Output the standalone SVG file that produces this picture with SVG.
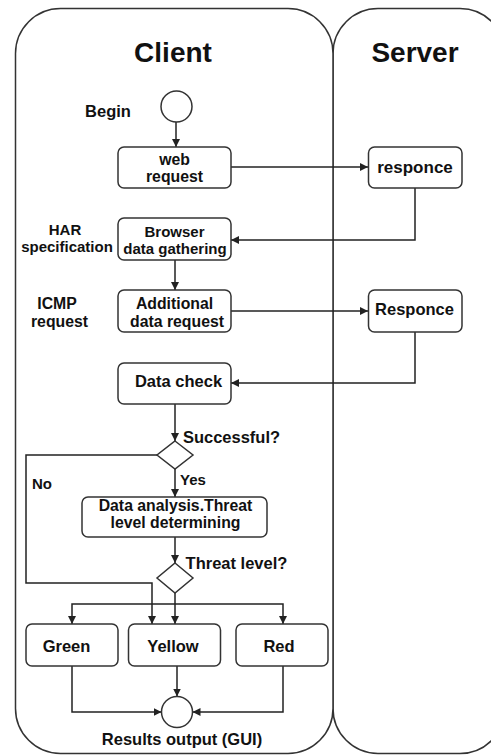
<svg xmlns="http://www.w3.org/2000/svg" width="491" height="755" viewBox="0 0 491 755">
<defs>
<style>
.lane{fill:#fff;stroke:#333;stroke-width:1.5}
.box{fill:#fff;stroke:#333;stroke-width:1.5}
.t{font-family:"Liberation Sans",Arial,sans-serif;font-weight:bold;font-size:16.5px;fill:#111;text-anchor:middle}
.m{font-size:15.8px}
.title{font-size:28px}
.c{fill:none;stroke:#222;stroke-width:1.5}
</style>
<marker id="ah" viewBox="0 0 10 10" refX="10" refY="5" markerWidth="8" markerHeight="8" markerUnits="userSpaceOnUse" orient="auto">
<path d="M0,0 L10,5 L0,10 z" fill="#222"/>
</marker>
</defs>
<rect width="491" height="755" fill="#fff"/>
<g id="lane-server">
<rect class="lane" x="333" y="8.5" width="172" height="745" rx="45" ry="45"/>
<text class="t title" x="415" y="62">Server</text>
</g>
<g id="lane-client">
<rect class="lane" x="15.5" y="8.5" width="317.5" height="745" rx="45" ry="45"/>
<text class="t title" x="173" y="62">Client</text>
</g>
<g id="connectors">
<path class="c" d="M176,122 V147" marker-end="url(#ah)"/>
<path class="c" d="M231,167 H368" marker-end="url(#ah)"/>
<path class="c" d="M415,188 V240 H231" marker-end="url(#ah)"/>
<path class="c" d="M175,260 V290" marker-end="url(#ah)"/>
<path class="c" d="M231,311 H368" marker-end="url(#ah)"/>
<path class="c" d="M415,332 V383 H231" marker-end="url(#ah)"/>
<path class="c" d="M175,404 V441" marker-end="url(#ah)"/>
<path class="c" d="M157,455 H26 V583 H152 V624" marker-end="url(#ah)"/>
<path class="c" d="M175,469 V497" marker-end="url(#ah)"/>
<path class="c" d="M175,537 V563" marker-end="url(#ah)"/>
<path class="c" d="M175,593 V624" marker-end="url(#ah)"/>
<path class="c" d="M175,604 H72 V624" marker-end="url(#ah)"/>
<path class="c" d="M175,604 H283 V624" marker-end="url(#ah)"/>
<path class="c" d="M177,666 V696.5" marker-end="url(#ah)"/>
<path class="c" d="M72,666 V712 H161.5" marker-end="url(#ah)"/>
<path class="c" d="M283,666 V712 H192.5" marker-end="url(#ah)"/>
</g>
<g id="begin">
<circle class="box" cx="176.5" cy="106.5" r="15.5"/>
<text class="t" x="108" y="116.5" font-size="17">Begin</text>
</g>
<g id="web-request">
<rect class="box" x="118" y="147" width="113" height="41" rx="6"/>
<text class="t m" x="174.5" y="164.7">web</text>
<text class="t m" x="174.5" y="182.4">request</text>
</g>
<g id="responce">
<rect class="box" x="368.5" y="147" width="93.5" height="41" rx="6"/>
<text class="t" x="415" y="172.5" style="font-size:17px">responce</text>
</g>
<g id="har-spec">
<text class="t" x="65" y="234.5" style="font-size:15px">HAR</text>
<text class="t" x="67" y="251.5" style="font-size:15px">specification</text>
</g>
<g id="browser">
<rect class="box" x="118" y="218" width="113" height="42" rx="6"/>
<text class="t" x="174.5" y="236.7" style="font-size:15px">Browser</text>
<text class="t" x="175" y="253.7" style="font-size:15px">data gathering</text>
</g>
<g id="icmp">
<text class="t m" x="57" y="309.2">ICMP</text>
<text class="t m" x="59.5" y="326.9">request</text>
</g>
<g id="additional">
<rect class="box" x="118" y="290" width="113" height="42" rx="6"/>
<text class="t m" x="174.5" y="309.2">Additional</text>
<text class="t m" x="177" y="326.9">data request</text>
</g>
<g id="responce2">
<rect class="box" x="368.5" y="290" width="93.5" height="42" rx="6"/>
<text class="t" x="414.5" y="315">Responce</text>
</g>
<g id="data-check">
<rect class="box" x="118" y="363" width="113" height="41" rx="6"/>
<text class="t" x="178.5" y="387">Data check</text>
</g>
<g id="successful">
<path class="box" d="M175,441 L193,455 L175,469 L157,455 Z"/>
<text class="t" x="231.5" y="443">Successful?</text>
<text class="t" x="42" y="489" style="font-size:15px">No</text>
<text class="t" x="193" y="485" style="font-size:15px">Yes</text>
</g>
<g id="analysis">
<rect class="box" x="82" y="497" width="185" height="40" rx="6"/>
<text class="t m" x="175.5" y="510.6">Data analysis.Threat</text>
<text class="t m" x="175.5" y="528.3">level determining</text>
</g>
<g id="threat">
<path class="box" d="M175,563 L193,578 L175,593 L157,578 Z"/>
<text class="t" x="236.5" y="569">Threat level?</text>
</g>
<g id="green">
<rect class="box" x="26" y="624" width="92" height="42" rx="6"/>
<text class="t" x="66.5" y="652">Green</text>
</g>
<g id="yellow">
<rect class="box" x="128.5" y="624" width="92" height="42" rx="6"/>
<text class="t" x="173" y="652">Yellow</text>
</g>
<g id="red">
<rect class="box" x="236" y="624" width="92" height="42" rx="6"/>
<text class="t" x="279" y="652">Red</text>
</g>
<g id="results">
<circle class="box" cx="177" cy="712" r="15.5"/>
<text class="t" x="182" y="745">Results output (GUI)</text>
</g>
</svg>
